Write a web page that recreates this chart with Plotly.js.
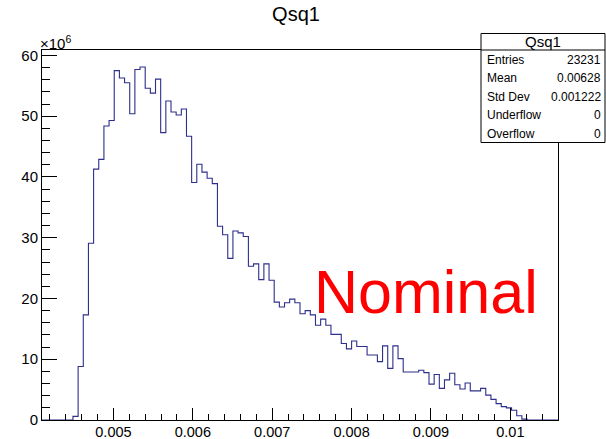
<!DOCTYPE html>
<html>
<head>
<meta charset="utf-8">
<script src="https://cdn.plot.ly/plotly-3.0.1.min.js"></script>
<style>
  html, body { margin: 0; padding: 0; background: #ffffff; }
  #chart { width: 606px; height: 439px; }
</style>
</head>
<body>
<div id="chart"></div>
<script>
// Histogram binning of Qsq1 (100 equal-width bins)
const xMin = 0.0041;
const xMax = 0.0106;
const nBins = 100;

// Bin contents, in units of 10^6
const counts = [
  0, 0, 0, 0, 0, 0, 0.6, 8.8, 17.3, 29.1,
  41.3, 42.9, 48.4, 49.3, 57.5, 56.3, 55.5, 50.4, 57.7, 58.1,
  54.6, 53.8, 56.1, 47.3, 52.5, 50.7, 50.2, 51.2, 46.7, 39.1,
  42.1, 40.8, 39.8, 38.9, 31.9, 30.5, 26.6, 31.1, 30.8, 30.2,
  25.3, 25.7, 23.1, 25.7, 23.0, 19.4, 18.6, 19.3, 19.9, 19.3,
  17.5, 18.0, 17.3, 15.6, 16.6, 15.6, 14.1, 14.1, 12.6, 11.7,
  13.0, 12.1, 12.1, 10.7, 10.7, 9.6, 12.2, 8.5, 12.2, 10.1,
  7.9, 7.9, 7.9, 8.2, 7.8, 5.9, 7.5, 5.2, 6.6, 7.7,
  5.8, 5.1, 6.1, 4.8, 4.8, 5.2, 4.1, 3.4, 2.7, 2.2,
  2.0, 1.6, 0.7, 0.15, 0, 0, 0, 0, 0, 0
];

// Axis tick labels
const xTickVals = [0.005, 0.006, 0.007, 0.008, 0.009, 0.01];
const xTickText = ['0.005', '0.006', '0.007', '0.008', '0.009', '0.01'];
const yTickVals = [0, 10, 20, 30, 40, 50, 60];

// Statistics box contents
const statsTitle = 'Qsq1';
const statLabels = ['Entries', 'Mean', 'Std Dev', 'Underflow', 'Overflow'];
const statValues = ['23231', '0.00628', '0.001222', '0', '0'];

// Step outline: one point per bin low edge, closed at the upper edge
const binWidth = (xMax - xMin) / nBins;
const stepX = [], stepY = [];
for (let i = 0; i < nBins; i++) {
  stepX.push(xMin + i * binWidth);
  stepY.push(counts[i]);
}
stepX.push(xMax);
stepY.push(counts[nBins - 1]);

// Frame geometry (pixels) and helpers to place decorations in paper space
const W = 606, H = 439;
const L = 42, R = 558, T = 50, B = 420;
const px = p => (p - L) / (R - L);
const py = p => (B - p) / (B - T);

const FONT = 'Liberation Sans, Arial, Helvetica, sans-serif';

const annotations = [
  {
    text: '×10<sup>6</sup>', xref: 'paper', yref: 'paper',
    x: px(38), y: py(42), xanchor: 'left', yanchor: 'middle',
    showarrow: false, font: { family: FONT, size: 15, color: '#000' }
  },
  {
    text: 'Nominal', xref: 'paper', yref: 'paper',
    x: px(312), y: py(292), xanchor: 'left', yanchor: 'middle',
    showarrow: false, font: { family: FONT, size: 61, color: '#ff0000' }
  },
  {
    text: statsTitle, xref: 'paper', yref: 'paper',
    x: px(543), y: py(41), xanchor: 'center', yanchor: 'middle',
    showarrow: false, font: { family: FONT, size: 15, color: '#000' }
  }
];

const rowY = [59.7, 78.3, 96.5, 115, 133.5];
statLabels.forEach((lab, i) => {
  annotations.push({
    text: lab, xref: 'paper', yref: 'paper',
    x: px(485), y: py(rowY[i]), xanchor: 'left', yanchor: 'middle',
    showarrow: false, font: { family: FONT, size: 12, color: '#000' }
  });
  annotations.push({
    text: statValues[i], xref: 'paper', yref: 'paper',
    x: px(603), y: py(rowY[i]), xanchor: 'right', yanchor: 'middle',
    showarrow: false, font: { family: FONT, size: 12, color: '#000' }
  });
});

const shapes = [
  {
    type: 'rect', xref: 'paper', yref: 'paper', layer: 'above',
    x0: px(481), x1: px(605), y0: py(142.5), y1: py(33.5),
    fillcolor: '#ffffff', line: { color: '#000000', width: 1 }
  },
  {
    type: 'line', xref: 'paper', yref: 'paper', layer: 'above',
    x0: px(481), x1: px(605), y0: py(50), y1: py(50),
    line: { color: '#000000', width: 1 }
  }
];

const trace = {
  type: 'scatter',
  mode: 'lines',
  x: stepX,
  y: stepY,
  line: { shape: 'hv', color: '#2e2e8c', width: 1.1 },
  hoverinfo: 'skip',
  showlegend: false
};

const layout = {
  width: W,
  height: H,
  margin: { l: L, r: W - R, t: T, b: H - B, pad: 0 },
  paper_bgcolor: '#ffffff',
  plot_bgcolor: '#ffffff',
  showlegend: false,
  title: {
    text: 'Qsq1',
    x: 296 / W, xanchor: 'center', xref: 'container',
    y: 1 - 14 / H, yanchor: 'middle', yref: 'container',
    font: { family: FONT, size: 20, color: '#000' }
  },
  xaxis: {
    range: [xMin, xMax],
    showgrid: false, zeroline: false,
    showline: true, mirror: true, linecolor: '#000', linewidth: 1,
    tickmode: 'array', tickvals: xTickVals, ticktext: xTickText,
    ticks: 'inside', ticklen: 12, tickcolor: '#000', tickwidth: 1,
    ticklabelstandoff: -1,
    minor: { ticks: 'inside', ticklen: 6, dtick: 0.0002, tick0: 0, tickcolor: '#000', tickwidth: 1, showgrid: false },
    tickfont: { family: FONT, size: 14.5, color: '#000' }
  },
  yaxis: {
    range: [0, 60.9],
    showgrid: false, zeroline: false,
    showline: true, mirror: true, linecolor: '#000', linewidth: 1,
    tickmode: 'array', tickvals: yTickVals,
    ticks: 'inside', ticklen: 15, tickcolor: '#000', tickwidth: 1,
    minor: { ticks: 'inside', ticklen: 8, dtick: 2, tick0: 0, tickcolor: '#000', tickwidth: 1, showgrid: false },
    tickfont: { family: FONT, size: 15, color: '#000' }
  },
  annotations: annotations,
  shapes: shapes
};

Plotly.newPlot('chart', [trace], layout, { displayModeBar: false, staticPlot: true });
</script>
</body>
</html>
